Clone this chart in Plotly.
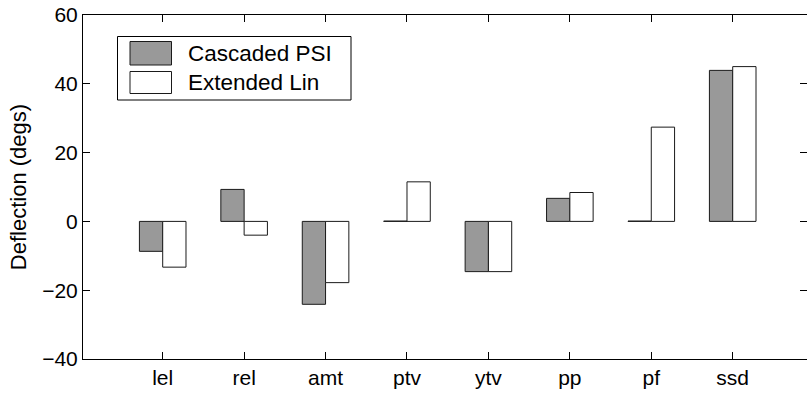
import plotly.graph_objects as go

# Deflection per control surface for the two estimation methods
categories = ["lel", "rel", "amt", "ptv", "ytv", "pp", "pf", "ssd"]
cascaded_psi = [-8.7, 9.3, -24.1, 0.1, -14.6, 6.7, 0.1, 43.9]
extended_lin = [-13.3, -4.0, -17.8, 11.5, -14.6, 8.4, 27.4, 45.0]
series_names = ["Cascaded PSI", "Extended Lin"]
y_ticks = [-40, -20, 0, 20, 40, 60]

W, H = 807, 395
ML, MR, MT, MB = 83, 0, 15, 36
PW, PH = W - ML - MR, H - MT - MB

FONT = "Liberation Sans, Arial, sans-serif"
GRAY = "#999999"
EDGE = "#1a1a1a"
BAR_W = 0.286


def px(x):
    return (x - ML) / PW


def py(y):
    return (H - MB - y) / PH


xpos = list(range(1, len(categories) + 1))

fig = go.Figure()
fig.add_trace(go.Bar(
    x=xpos, y=cascaded_psi, name=series_names[0],
    width=BAR_W, offset=-BAR_W,
    marker=dict(color=GRAY, line=dict(color=EDGE, width=1)),
    showlegend=False,
))
fig.add_trace(go.Bar(
    x=xpos, y=extended_lin, name=series_names[1],
    width=BAR_W, offset=0,
    marker=dict(color="white", line=dict(color=EDGE, width=1)),
    showlegend=False,
))

# boxed legend with large swatches
shapes = [
    dict(type="rect", xref="paper", yref="paper",
         x0=px(117.5), x1=px(351), y0=py(100), y1=py(36.5),
         line=dict(color="black", width=1), fillcolor="white", layer="above"),
    dict(type="rect", xref="paper", yref="paper",
         x0=px(130), x1=px(171.5), y0=py(65), y1=py(41.5),
         line=dict(color=EDGE, width=1), fillcolor=GRAY, layer="above"),
    dict(type="rect", xref="paper", yref="paper",
         x0=px(130), x1=px(171.5), y0=py(93.5), y1=py(71.5),
         line=dict(color=EDGE, width=1), fillcolor="white", layer="above"),
]
annotations = [
    dict(xref="paper", yref="paper", x=px(186), y=py(53.5),
         text=series_names[0], showarrow=False, xanchor="left", yanchor="middle",
         font=dict(family=FONT, size=22.5, color="black")),
    dict(xref="paper", yref="paper", x=px(186), y=py(82.5),
         text=series_names[1], showarrow=False, xanchor="left", yanchor="middle",
         font=dict(family=FONT, size=22.5, color="black")),
]

x0 = 1 - (162.7 - ML) / 81.43
fig.update_layout(
    width=W, height=H,
    margin=dict(l=ML, r=MR, t=MT, b=MB, pad=0),
    paper_bgcolor="white", plot_bgcolor="white",
    barmode="overlay",
    font=dict(family=FONT, size=21, color="black"),
    shapes=shapes, annotations=annotations,
    xaxis=dict(
        range=[x0, x0 + PW / 81.43],
        tickmode="array", tickvals=xpos, ticktext=categories,
        ticks="inside", ticklen=7, tickcolor="black", tickwidth=1,
        showline=True, linecolor="black", linewidth=1, mirror="ticks",
        showgrid=False, zeroline=False,
        tickfont=dict(size=21),
    ),
    yaxis=dict(
        range=[-40, 60],
        tickmode="array", tickvals=y_ticks,
        ticks="inside", ticklen=7, tickcolor="black", tickwidth=1,
        showline=True, linecolor="black", linewidth=1, mirror="ticks",
        showgrid=False, zeroline=False,
        tickfont=dict(size=21),
        title=dict(text="Deflection (degs)", font=dict(size=22), standoff=9),
        automargin=False,
    ),
)

fig.write_html("out.html")
